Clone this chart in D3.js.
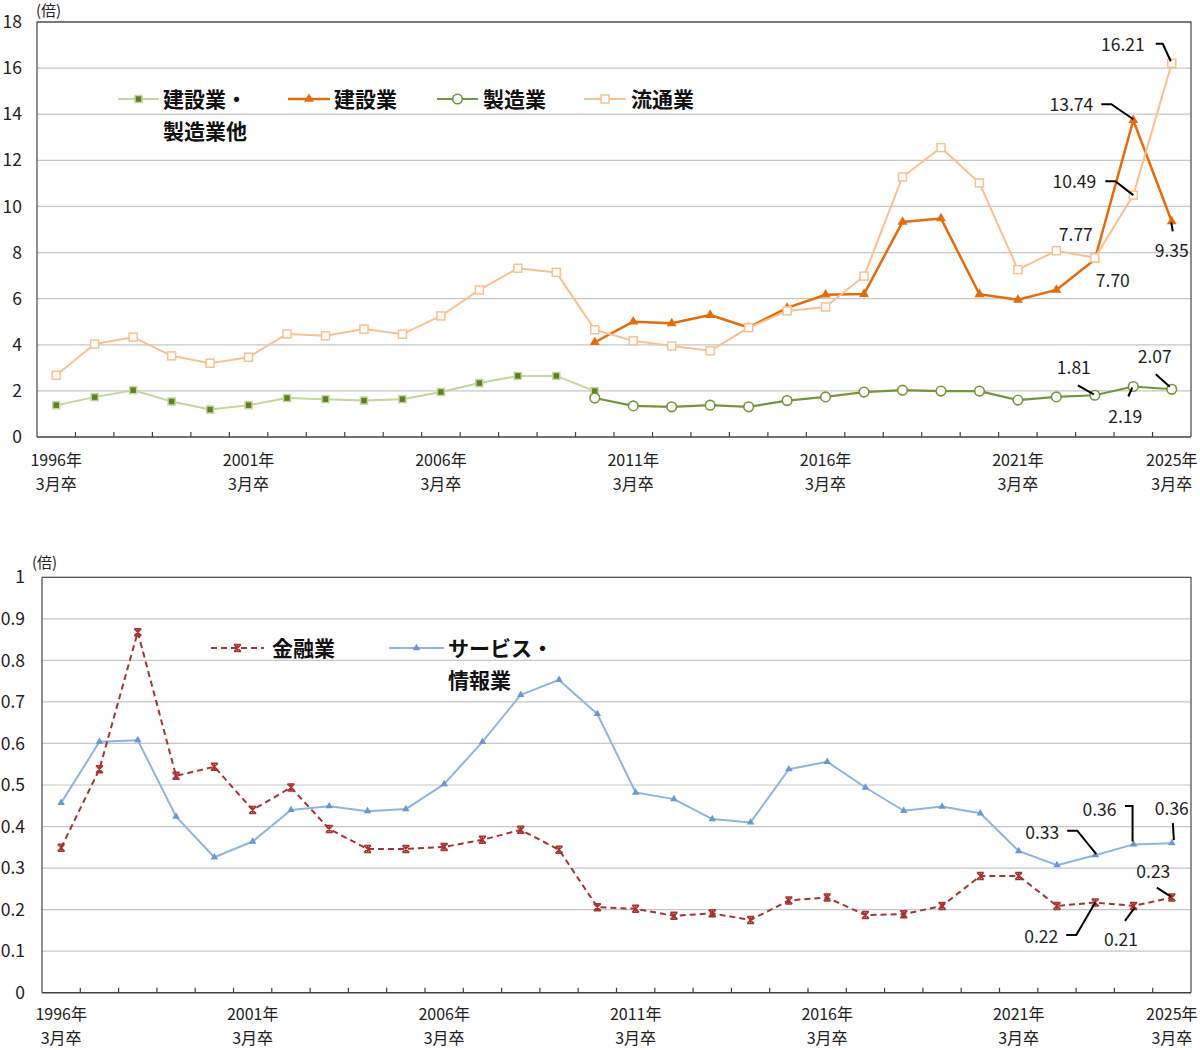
<!DOCTYPE html>
<html><head><meta charset="utf-8">
<script src="https://cdn.jsdelivr.net/npm/d3@7"></script>
<style>
body{margin:0;background:#fff;}
svg{display:block;font-family:"Noto Sans CJK JP","Noto Sans",sans-serif;}
</style></head><body>
<svg id="chart" width="1200" height="1050"></svg>
<script>
// ---------- data ----------
const years = [1996,1997,1998,1999,2000,2001,2002,2003,2004,2005,2006,2007,2008,2009,2010,
               2011,2012,2013,2014,2015,2016,2017,2018,2019,2020,2021,2022,2023,2024,2025];
const xTickYears = [1996,2001,2006,2011,2016,2021,2025];
const topYTicks = [0,2,4,6,8,10,12,14,16,18];
const bottomYTicks = [0,0.1,0.2,0.3,0.4,0.5,0.6,0.7,0.8,0.9,1];

const constructionMfgOther = [1.38,1.73,2.03,1.54,1.19,1.38,1.69,1.64,1.58,1.64,1.95,2.34,2.65,2.65,1.99,
  null,null,null,null,null,null,null,null,null,null,null,null,null,null,null];
const construction = [null,null,null,null,null,null,null,null,null,null,null,null,null,null,
  4.11,5.00,4.93,5.29,4.75,5.60,6.17,6.20,9.33,9.48,6.19,5.95,6.38,7.70,13.74,9.35];
const manufacturing = [null,null,null,null,null,null,null,null,null,null,null,null,null,null,
  1.69,1.35,1.31,1.38,1.31,1.58,1.74,1.95,2.03,1.99,1.99,1.60,1.74,1.81,2.19,2.07];
const distribution = [2.68,4.03,4.33,3.52,3.20,3.46,4.47,4.39,4.68,4.46,5.25,6.38,7.32,7.14,4.65,
  4.17,3.95,3.74,4.74,5.47,5.64,6.98,11.28,12.55,11.02,7.26,8.08,7.77,10.49,16.21];

const finance = [0.349,0.538,0.868,0.522,0.544,0.440,0.494,0.394,0.346,0.346,0.351,0.368,0.392,0.344,0.206,
  0.202,0.185,0.191,0.175,0.222,0.229,0.187,0.189,0.209,0.281,0.281,0.209,0.217,0.209,0.229];
const serviceInfo = [0.457,0.604,0.608,0.424,0.326,0.364,0.440,0.449,0.437,0.442,0.502,0.604,0.717,0.753,0.671,
  0.482,0.466,0.418,0.410,0.538,0.556,0.494,0.438,0.448,0.432,0.341,0.307,0.331,0.357,0.360];

// ---------- drawing ----------
const svg = d3.select("#chart");
svg.append("rect").attr("width",1200).attr("height",1050).attr("fill","#fff");

function marker(g, type, st, cx, cy) {
  if (type === "sqFilled") {
    g.append("rect").attr("x",cx-3.5).attr("y",cy-3.5).attr("width",7).attr("height",7)
      .attr("fill","#5f7f2d").attr("stroke",st.line).attr("stroke-width",1.5);
  } else if (type === "sqOpen") {
    g.append("rect").attr("x",cx-4).attr("y",cy-4).attr("width",8).attr("height",8)
      .attr("fill","#fff").attr("stroke",st.line).attr("stroke-width",1.5);
  } else if (type === "circle") {
    g.append("circle").attr("cx",cx).attr("cy",cy).attr("r",4.8)
      .attr("fill","#fff").attr("stroke",st.line).attr("stroke-width",1.6);
  } else if (type === "tri") {
    g.append("path").attr("d",d3.symbol(d3.symbolTriangle, st.msize)())
      .attr("transform",`translate(${cx},${cy})`).attr("fill",st.mfill);
  } else if (type === "star") {
    const s = 3.5;
    g.append("path").attr("d",`M${cx-s},${cy-s}L${cx+s},${cy+s}M${cx-s},${cy+s}L${cx+s},${cy-s}M${cx},${cy-s}L${cx},${cy+s}M${cx-s},${cy-s}L${cx+s},${cy-s}M${cx-s},${cy+s}L${cx+s},${cy+s}`)
      .attr("stroke",st.line).attr("stroke-width",1.5).attr("fill","none");
  }
}

function drawPanel(p) {
  const g = svg.append("g");
  const x = d3.scaleBand().domain(years).range([p.left,p.right]).padding(0);
  const bw = x.bandwidth();
  const cx = yr => x(yr) + bw/2;
  const y = d3.scaleLinear().domain([0,p.yMax]).range([p.bottom,p.top]);

  // gridlines
  g.selectAll(".grid").data(p.yTicks.filter(t=>t>0)).enter().append("line")
    .attr("x1",p.left).attr("x2",p.right).attr("y1",d=>y(d)).attr("y2",d=>y(d))
    .attr("stroke","#c6c6c6").attr("stroke-width",1.2);
  // border
  g.append("path").attr("d",`M${p.left},${p.bottom}V${p.top}H${p.right}V${p.bottom}`)
    .attr("fill","none").attr("stroke","#555").attr("stroke-width",1.3);
  g.append("line").attr("x1",p.left).attr("x2",p.right).attr("y1",p.bottom).attr("y2",p.bottom)
    .attr("stroke","#404040").attr("stroke-width",1.5);
  // x ticks (band boundaries, inward)
  g.selectAll(".xt").data(years.slice(1)).enter().append("line")
    .attr("x1",d=>x(d)).attr("x2",d=>x(d)).attr("y1",p.bottom).attr("y2",p.bottom-5)
    .attr("stroke","#404040").attr("stroke-width",1.2);
  // y tick labels
  g.selectAll(".yl").data(p.yTicks).enter().append("text")
    .attr("x",p.yLabelX).attr("y",d=>y(d)).attr("dy","0.35em")
    .attr("text-anchor","end").attr("font-size",17.5).attr("fill","#222")
    .text(d=>p.fmt(d));
  // unit
  g.append("text").attr("x",p.unitX).attr("y",p.unitY).attr("font-size",15).attr("fill","#222")
    .attr("dy","0.35em").text("(倍)");
  // x labels
  xTickYears.forEach(yr=>{
    g.append("text").attr("x",cx(yr)).attr("y",p.xl1).attr("dy","0.35em").attr("text-anchor","middle")
      .attr("font-size",16).attr("fill","#222").text(yr+"年");
    g.append("text").attr("x",cx(yr)).attr("y",p.xl2).attr("dy","0.35em").attr("text-anchor","middle")
      .attr("font-size",16).attr("fill","#222").text("3月卒");
  });

  // series
  p.series.forEach(s=>{
    const pts = years.map((yr,i)=>({yr, v:s.values[i]}));
    const line = d3.line().defined(d=>d.v!=null).x(d=>cx(d.yr)).y(d=>y(d.v));
    g.append("path").datum(pts).attr("d",line).attr("fill","none")
      .attr("stroke",s.style.line).attr("stroke-width",s.style.width)
      .attr("stroke-dasharray",s.style.dash||null).attr("stroke-linejoin","round");
    pts.filter(d=>d.v!=null).forEach(d=>marker(g,s.style.marker,s.style,cx(d.yr),y(d.v)));
  });

  // legend
  p.legend.forEach(l=>{
    const s = p.series.find(q=>q.name===l.name);
    g.append("line").attr("x1",l.x1).attr("x2",l.x2).attr("y1",l.y).attr("y2",l.y)
      .attr("stroke",s.style.line).attr("stroke-width",s.style.width)
      .attr("stroke-dasharray",s.style.dash||null);
    marker(g,s.style.marker,s.style,(l.x1+l.x2)/2,l.y);
    l.lines.forEach((t,i)=>{
      g.append("text").attr("x",l.tx).attr("y",l.y+i*32).attr("dy","0.36em")
        .attr("font-size",21).attr("font-weight","bold").attr("fill","#111").text(t);
    });
  });

  // annotations
  p.notes.forEach(n=>{
    const s = p.series.find(q=>q.name===n.series);
    const i = years.indexOf(n.year);
    const px = cx(n.year), py = y(s.values[i]);
    g.append("text").attr("x",px+n.dx).attr("y",py+n.dy).attr("dy","0.35em")
      .attr("text-anchor",n.anchor).attr("font-size",17.5).attr("fill","#222").text(n.text);
    if (n.leader) {
      g.append("path").attr("d", d3.line()(n.leader.map(q=>[px+q[0],py+q[1]])))
        .attr("fill","none").attr("stroke","#000").attr("stroke-width",2);
    }
  });
}

const stCMO = {line:"#c3d69b", width:2, marker:"sqFilled"};
const stCon = {line:"#e46c0a", width:2.5, marker:"tri", mfill:"#e46c0a", msize:42};
const stMfg = {line:"#77933c", width:2.2, marker:"circle"};
const stDis = {line:"#fac090", width:2, marker:"sqOpen"};
const stFin = {line:"#a5332f", width:2, marker:"star", dash:"6,4"};
const stSvc = {line:"#8db4e2", width:2, marker:"tri", mfill:"#6b97cf", msize:24};

drawPanel({
  left:37, right:1191, top:22, bottom:437, yMax:18, yTicks:topYTicks,
  fmt:d=>d, yLabelX:22, unitX:36, unitY:11, xl1:460, xl2:484,
  series:[
    {name:"建設業・製造業他", values:constructionMfgOther, style:stCMO},
    {name:"製造業", values:manufacturing, style:stMfg},
    {name:"建設業", values:construction, style:stCon},
    {name:"流通業", values:distribution, style:stDis}
  ],
  legend:[
    {name:"建設業・製造業他", x1:118, x2:159, y:99, tx:163, lines:["建設業・","製造業他"]},
    {name:"建設業", x1:288, x2:330, y:99, tx:334, lines:["建設業"]},
    {name:"製造業", x1:437, x2:478, y:99, tx:483, lines:["製造業"]},
    {name:"流通業", x1:584, x2:626, y:99, tx:631, lines:["流通業"]}
  ],
  notes:[
    {series:"流通業", year:2025, text:"16.21", anchor:"end", dx:-27, dy:-18, leader:[[-16,-19.5],[-9,-19.5],[-1,-2]]},
    {series:"建設業", year:2024, text:"13.74", anchor:"end", dx:-40, dy:-15, leader:[[-32,-16],[-22,-16],[0,-1]]},
    {series:"流通業", year:2024, text:"10.49", anchor:"end", dx:-37, dy:-13, leader:[[-28,-14],[-18,-14],[0,0]]},
    {series:"流通業", year:2023, text:"7.77", anchor:"end", dx:-2, dy:-23},
    {series:"建設業", year:2023, text:"7.70", anchor:"start", dx:1, dy:21},
    {series:"建設業", year:2025, text:"9.35", anchor:"middle", dx:0, dy:29, leader:[[-0.5,1],[1,10]]},
    {series:"製造業", year:2023, text:"1.81", anchor:"end", dx:-4, dy:-27, leader:[[-17,-10],[-1,-1]]},
    {series:"製造業", year:2024, text:"2.19", anchor:"middle", dx:-8, dy:30, leader:[[-5,10],[-1,1]]},
    {series:"製造業", year:2025, text:"2.07", anchor:"middle", dx:-17, dy:-32, leader:[[-16,-15],[-2,-2.6]]}
  ]
});

drawPanel({
  left:42, right:1191, top:577.3, bottom:992.7, yMax:1, yTicks:bottomYTicks,
  fmt:d=>d3.format("")(+d.toFixed(1)), yLabelX:25, unitX:32, unitY:563, xl1:1014, xl2:1038,
  series:[
    {name:"サービス・情報業", values:serviceInfo, style:stSvc},
    {name:"金融業", values:finance, style:stFin}
  ],
  legend:[
    {name:"金融業", x1:211, x2:264, y:648, tx:272, lines:["金融業"]},
    {name:"サービス・情報業", x1:389, x2:444, y:648, tx:448, lines:["サービス・","情報業"]}
  ],
  notes:[
    {series:"サービス・情報業", year:2024, text:"0.36", anchor:"end", dx:-17, dy:-35, leader:[[-8.6,-38.4],[-1,-38.4],[-1,-3]]},
    {series:"サービス・情報業", year:2025, text:"0.36", anchor:"middle", dx:0, dy:-34, leader:[[1,-20],[2,-3]]},
    {series:"サービス・情報業", year:2023, text:"0.33", anchor:"end", dx:-36, dy:-22.5, leader:[[-28,-24.5],[-18,-24.5],[1,-1]]},
    {series:"金融業", year:2025, text:"0.23", anchor:"middle", dx:-18.5, dy:-26, leader:[[-15,-10],[-1,-1]]},
    {series:"金融業", year:2023, text:"0.22", anchor:"end", dx:-37, dy:34, leader:[[-29,32.4],[-19,32.4],[0,0]]},
    {series:"金融業", year:2024, text:"0.21", anchor:"middle", dx:-12.5, dy:34, leader:[[-8.6,15],[1,2]]}
  ]
});
</script>
</body></html>
